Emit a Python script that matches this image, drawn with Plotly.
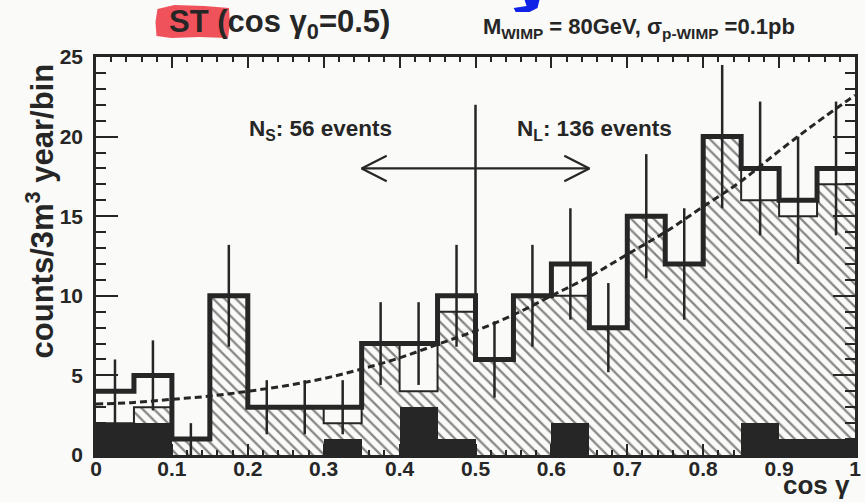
import plotly.graph_objects as go

# ---- data -----------------------------------------------------------------
BIN_LOW = [0.00, 0.05, 0.10, 0.15, 0.20, 0.25, 0.30, 0.35, 0.40, 0.45,
           0.50, 0.55, 0.60, 0.65, 0.70, 0.75, 0.80, 0.85, 0.90, 0.95]
BIN_WIDTH = 0.05

# observed counts (thick outline) and their error bars
DATA_COUNTS = [4, 5, 1, 10, 3, 3, 3, 7, 7, 10, 6, 10, 12, 8, 15, 12, 20, 18, 16, 18]
DATA_ERRORS = [2.0, 2.2, 1.0, 3.2, 1.7, 1.7, 1.7, 2.6, 2.6, 3.2,
               2.4, 3.2, 3.5, 2.8, 3.9, 3.5, 4.5, 4.2, 4.0, 4.2]
# expected signal + background (hatched)
EXPECTED_COUNTS = [2, 3, 1, 10, 3, 3, 2, 7, 4, 9, 6, 10, 10, 8, 15, 12, 20, 16, 15, 17]
# background (solid black)
BACKGROUND_COUNTS = [2, 2, 0, 0, 0, 0, 1, 0, 3, 1, 0, 0, 2, 0, 0, 0, 0, 2, 1, 1]

# fitted curve (dashed)
FIT_COS = [0.00, 0.05, 0.10, 0.15, 0.20, 0.25, 0.30, 0.35, 0.40, 0.45, 0.50,
           0.55, 0.60, 0.65, 0.70, 0.75, 0.80, 0.85, 0.90, 0.95, 1.00]
FIT_COUNTS = [3.2, 3.3, 3.5, 3.7, 4.0, 4.35, 4.8, 5.4, 6.1, 6.95, 7.8,
              8.8, 10.0, 11.2, 12.6, 14.0, 15.6, 17.2, 19.1, 20.9, 22.6]

# cut at cos(gamma0) = 0.5 and the S / L region arrow
CUT_COS = 0.5
CUT_TOP = 22.0
ARROW_FROM, ARROW_TO, ARROW_Y = 0.35, 0.65, 18.0
N_SHORT, N_LONG = 56, 136

# ---- style ----------------------------------------------------------------
W, H = 865, 502
ML, MR, MT, MB = 96, 4, 57, 47
INK = "#262626"
PAPER = "#fafaf8"
FONT = "Liberation Sans, Arial, Helvetica, sans-serif"


def px_to_paper(px, py):
    """Convert page pixels to paper coordinates."""
    return (px - ML) / (W - ML - MR), (H - MB - py) / (H - MT - MB)


centers = [b + BIN_WIDTH / 2 for b in BIN_LOW]
edges = BIN_LOW + [BIN_LOW[-1] + BIN_WIDTH]

fig = go.Figure()

# hatched expectation
fig.add_trace(go.Bar(
    x=centers, y=EXPECTED_COUNTS, width=BIN_WIDTH,
    marker=dict(color=PAPER, line=dict(width=0),
                pattern=dict(shape="\\", fgcolor="#111111", bgcolor=PAPER,
                             size=8, solidity=0.28)),
    showlegend=False, hoverinfo="skip"))

# solid background
fig.add_trace(go.Bar(
    x=centers, y=BACKGROUND_COUNTS, width=BIN_WIDTH,
    marker=dict(color=INK, line=dict(width=0)),
    showlegend=False, hoverinfo="skip"))

# thin outline of the expectation
fig.add_trace(go.Scatter(
    x=edges, y=EXPECTED_COUNTS + [EXPECTED_COUNTS[-1]],
    mode="lines", line=dict(color=INK, width=2, shape="hv"),
    showlegend=False, hoverinfo="skip"))

# dashed fit
fig.add_trace(go.Scatter(
    x=FIT_COS, y=FIT_COUNTS, mode="lines",
    line=dict(color=INK, width=3, dash="7px,4px", shape="spline"),
    showlegend=False, hoverinfo="skip"))

# observed histogram, thick step outline
fig.add_trace(go.Scatter(
    x=edges, y=DATA_COUNTS + [DATA_COUNTS[-1]],
    mode="lines", line=dict(color=INK, width=5, shape="hv"),
    showlegend=False, hoverinfo="skip"))

# error bars
fig.add_trace(go.Scatter(
    x=centers, y=DATA_COUNTS, mode="markers",
    marker=dict(size=1, color="rgba(0,0,0,0)"),
    error_y=dict(type="data", array=DATA_ERRORS, visible=True,
                 color=INK, thickness=2.5, width=0),
    showlegend=False, hoverinfo="skip"))

# vertical cut line
cut_bin = BIN_LOW.index(CUT_COS)
fig.add_trace(go.Scatter(
    x=[CUT_COS, CUT_COS], y=[DATA_COUNTS[cut_bin], CUT_TOP],
    mode="lines", line=dict(color=INK, width=2.5),
    showlegend=False, hoverinfo="skip"))

# double arrow with open heads
hx, hy = 0.033, 0.8
fig.add_trace(go.Scatter(
    x=[ARROW_FROM, ARROW_TO, None,
       ARROW_FROM + hx, ARROW_FROM, ARROW_FROM + hx, None,
       ARROW_TO - hx, ARROW_TO, ARROW_TO - hx],
    y=[ARROW_Y, ARROW_Y, None,
       ARROW_Y + hy, ARROW_Y, ARROW_Y - hy, None,
       ARROW_Y + hy, ARROW_Y, ARROW_Y - hy],
    mode="lines", line=dict(color=INK, width=2.2),
    showlegend=False, hoverinfo="skip"))

axis_common = dict(
    showline=True, linecolor=INK, linewidth=2.5, mirror="allticks",
    ticks="inside", tickcolor=INK, tickwidth=2.2,
    showgrid=False, zeroline=False,
    tickfont=dict(family=FONT, size=21, color=INK, weight="bold"),
)

fig.update_xaxes(range=[0, 1], dtick=0.1, ticklen=11,
                 minor=dict(dtick=0.02, ticklen=5, tickwidth=2,
                            tickcolor=INK, ticks="inside"),
                 ticklabelstandoff=-7, **axis_common)
fig.update_yaxes(range=[0, 25], dtick=5, ticklen=22,
                 minor=dict(dtick=1, ticklen=10, tickwidth=2,
                            tickcolor=INK, ticks="inside"),
                 ticklabelstandoff=6, **axis_common)

shapes = []
# red highlighter stroke behind "ST"
pts = [(158, 9), (175, 5), (205, 6), (230, 8), (231, 24), (229, 38),
       (200, 37), (172, 38), (157, 36), (156, 22)]
path = "M " + " L ".join("{:.4f},{:.4f}".format(*px_to_paper(x, y)) for x, y in pts) + " Z"
shapes.append(dict(type="path", xref="paper", yref="paper", path=path,
                   fillcolor="rgba(236,52,62,0.85)", line=dict(width=0), layer="below"))
# blue fragment at the top edge
bx = [(528, 0), (543, 0), (541, 8), (533, 12), (519, 12), (517, 8), (530, 6)]
path = "M " + " L ".join("{:.4f},{:.4f}".format(*px_to_paper(x, y)) for x, y in bx) + " Z"
shapes.append(dict(type="path", xref="paper", yref="paper", path=path,
                   fillcolor="#0f22e6", line=dict(width=0)))

annotations = []
tx, ty = px_to_paper(40, 211)
annotations.append(dict(text="counts/3m<sup>3</sup> year/bin", textangle=-90,
                        xref="paper", yref="paper", x=tx, y=ty,
                        xanchor="center", yanchor="middle", showarrow=False,
                        font=dict(family=FONT, size=31, color=INK, weight="bold")))
tx, ty = px_to_paper(858, 485)
annotations.append(dict(text="cos γ", xref="paper", yref="paper", x=tx, y=ty,
                        xanchor="right", yanchor="middle", showarrow=False,
                        font=dict(family=FONT, size=26, color=INK, weight="bold")))
tx, ty = px_to_paper(168, 24)
annotations.append(dict(text="ST (cos γ<sub>0</sub>=0.5)", xref="paper", yref="paper",
                        x=tx, y=ty, xanchor="left", yanchor="middle", showarrow=False,
                        font=dict(family=FONT, size=31, color=INK, weight="bold")))
tx, ty = px_to_paper(484, 28)
annotations.append(dict(text="M<sub>WIMP</sub> = 80GeV, σ<sub>p-WIMP</sub> =0.1pb",
                        xref="paper", yref="paper", x=tx, y=ty, xanchor="left",
                        yanchor="middle", showarrow=False,
                        font=dict(family=FONT, size=22, color=INK, weight="bold")))
annotations.append(dict(text=f"N<sub>S</sub>: {N_SHORT} events", x=0.199, y=20.4,
                        xref="x", yref="y", xanchor="left", yanchor="middle",
                        showarrow=False,
                        font=dict(family=FONT, size=22.5, color=INK, weight="bold")))
annotations.append(dict(text=f"N<sub>L</sub>: {N_LONG} events", x=0.552, y=20.4,
                        xref="x", yref="y", xanchor="left", yanchor="middle",
                        showarrow=False,
                        font=dict(family=FONT, size=22.5, color=INK, weight="bold")))

fig.update_layout(
    width=W, height=H, autosize=False,
    margin=dict(l=ML, r=MR, t=MT, b=MB),
    paper_bgcolor=PAPER, plot_bgcolor=PAPER,
    barmode="overlay", bargap=0,
    shapes=shapes, annotations=annotations,
    showlegend=False,
)

fig.write_html("out.html")
